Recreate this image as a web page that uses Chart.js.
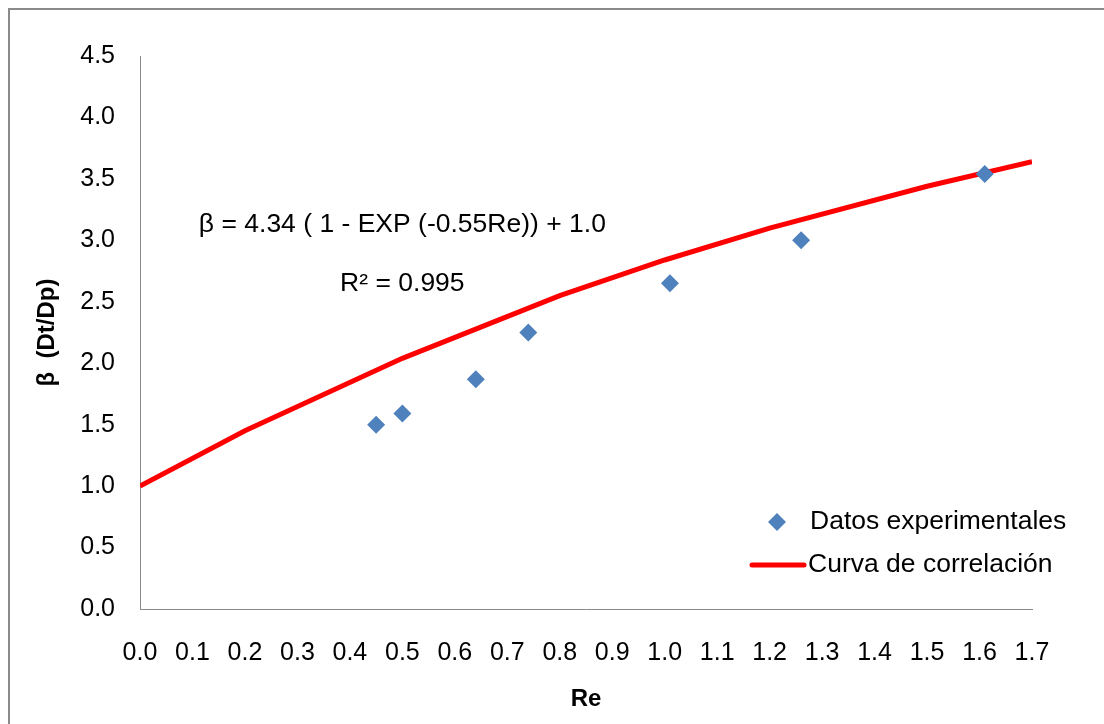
<!DOCTYPE html>
<html>
<head>
<meta charset="utf-8">
<script src="https://cdn.jsdelivr.net/npm/chart.js@4"></script>
<style>
    html, body { margin: 0; padding: 0; background: #fff; }
    #wrap { position: relative; width: 1104px; height: 724px; overflow: hidden; }
    #frame { position: absolute; left: 8px; top: 8px; width: 1200px; height: 1000px; border: 2px solid #8a8a8a; }
    #chart { position: absolute; left: 0; top: 0; }
</style>
</head>
<body>
<div id="wrap">
    <div id="frame"></div>
    <canvas id="chart" width="1104" height="724"></canvas>
</div>
<script>
// experimental points
const reExp = [0.45, 0.50, 0.64, 0.74, 1.01, 1.26, 1.61];
const betaExp = [1.50, 1.59, 1.87, 2.25, 2.65, 3.00, 3.54];

// correlation curve
const reFit = [0.0, 0.2, 0.5, 0.8, 1.0, 1.2, 1.5, 1.7];
const betaFit = [1.00, 1.45, 2.04, 2.55, 2.84, 3.10, 3.44, 3.64];

const seriesLabels = ['Datos experimentales', 'Curva de correlación'];
const xTitle = 'Re';
const yTitle = 'β  (Dt/Dp)';
const equationText = 'β = 4.34 ( 1 - EXP (-0.55Re)) + 1.0';
const r2Text = 'R² = 0.995';

const FONT = '"Liberation Sans", Arial, sans-serif';
const BLUE = '#4F81BD';
const RED = '#FF0000';
const STRETCH = 1.06; // the original text is a bit wider than Arial

function wideText(ctx, txt, x, y, align) {
    ctx.save();
    ctx.translate(x, y);
    ctx.scale(STRETCH, 1);
    ctx.textAlign = align;
    ctx.fillText(txt, 0, 0);
    ctx.restore();
}

// equation + R² text, anchored to data coordinates
const equationPlugin = {
    id: 'equation',
    afterDatasetsDraw(chart) {
        const { ctx, scales: { x, y } } = chart;
        ctx.save();
        ctx.fillStyle = '#000';
        ctx.font = '25px ' + FONT;
        ctx.textBaseline = 'middle';
        wideText(ctx, equationText, x.getPixelForValue(0.5), y.getPixelForValue(3.12), 'center');
        wideText(ctx, r2Text, x.getPixelForValue(0.5), y.getPixelForValue(2.64), 'center');
        ctx.restore();
    }
};

// legend drawn inside the plot, bottom right like the original
const legendPlugin = {
    id: 'insideLegend',
    afterDraw(chart) {
        const ctx = chart.ctx;
        const ds = chart.data.datasets;
        ctx.save();
        ctx.font = '25px ' + FONT;
        ctx.textBaseline = 'middle';

        // diamond
        const dy = 522;
        ctx.fillStyle = ds[0].backgroundColor;
        ctx.beginPath();
        ctx.moveTo(777, dy - 9); ctx.lineTo(786, dy); ctx.lineTo(777, dy + 9); ctx.lineTo(768, dy);
        ctx.closePath(); ctx.fill();
        ctx.fillStyle = '#000';
        wideText(ctx, ds[0].label, 810, dy, 'left');

        // line
        const ly = 565;
        ctx.strokeStyle = ds[1].borderColor;
        ctx.lineWidth = 5;
        ctx.lineCap = 'round';
        ctx.beginPath(); ctx.moveTo(752, ly); ctx.lineTo(804, ly); ctx.stroke();
        wideText(ctx, ds[1].label, 808, ly, 'left');
        ctx.restore();
    }
};

new Chart(document.getElementById('chart'), {
    type: 'scatter',
    data: {
        datasets: [
            {
                label: seriesLabels[0],
                data: reExp.map((v, i) => ({ x: v, y: betaExp[i] })),
                backgroundColor: BLUE,
                borderColor: BLUE,
                pointStyle: 'rectRot',
                pointRadius: 9,
                pointHoverRadius: 9,
                borderWidth: 0
            },
            {
                label: seriesLabels[1],
                data: reFit.map((v, i) => ({ x: v, y: betaFit[i] })),
                showLine: true,
                borderColor: RED,
                backgroundColor: RED,
                borderWidth: 5,
                pointRadius: 0,
                tension: 0
            }
        ]
    },
    options: {
        responsive: false,
        animation: false,
        layout: { padding: { left: 0, top: 56, right: 72, bottom: 0 } },
        plugins: { legend: { display: false }, tooltip: { enabled: false } },
        scales: {
            x: {
                type: 'linear',
                min: 0, max: 1.7,
                grid: { display: false, drawTicks: false },
                border: { display: true, color: '#8a8a8a', width: 1 },
                ticks: {
                    stepSize: 0.1,
                    padding: 29,
                    color: '#000',
                    font: { family: FONT, size: 25 },
                    maxRotation: 0,
                    autoSkip: false,
                    callback: v => v.toFixed(1)
                },
                title: {
                    display: true, text: xTitle, color: '#000',
                    font: { family: FONT, size: 24, weight: 'bold' },
                    padding: { top: 0, bottom: 10 }
                },
                afterFit: s => { s.height = 115; }
            },
            y: {
                type: 'linear',
                min: 0, max: 4.5,
                grid: { display: false, drawTicks: false },
                border: { display: true, color: '#8a8a8a', width: 1 },
                ticks: {
                    stepSize: 0.5,
                    padding: 25,
                    color: '#000',
                    font: { family: FONT, size: 25 },
                    callback: v => v.toFixed(1)
                },
                title: {
                    display: true, text: yTitle, color: '#000',
                    font: { family: FONT, size: 24, weight: 'bold' },
                    padding: { top: 33, bottom: 0 }
                },
                afterFit: s => { s.width = 140; }
            }
        }
    },
    plugins: [equationPlugin, legendPlugin]
});
</script>
</body>
</html>
